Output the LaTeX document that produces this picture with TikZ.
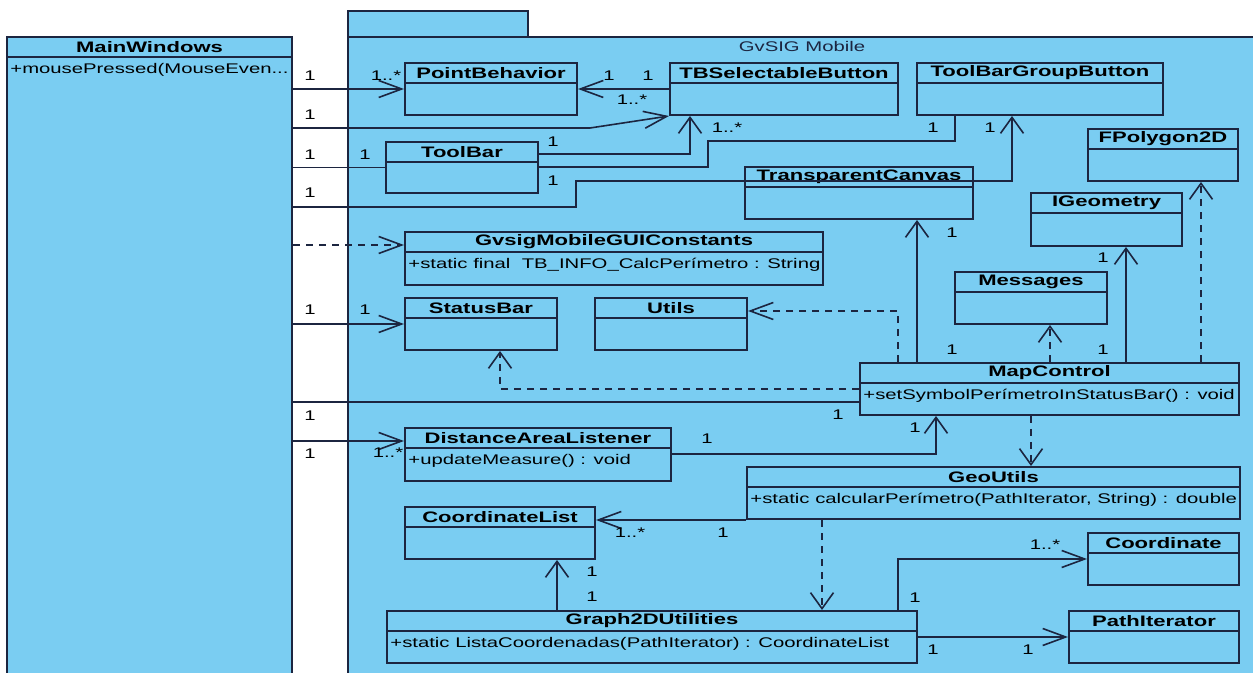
\documentclass[tikz,border=0pt]{standalone}
\usepackage{fontspec}
\setmainfont{Liberation Sans}
\usepackage{graphicx}
\definecolor{umlblue}{RGB}{122,205,242}
\definecolor{umlline}{RGB}{28,37,64}
\usetikzlibrary{arrows.meta, fit, calc}
\newcommand{\wide}[1]{\scalebox{1.45}[1]{#1}}

\begin{document}
\begin{tikzpicture}[x=0.5pt, y=-0.5pt,
    classbox/.style={draw=umlline, fill=umlblue, line width=1pt, inner sep=0pt},
    boxline/.style={draw=umlline, line width=1pt},
    titletext/.style={font=\fontsize{7.6}{8}\selectfont\bfseries, text=black, inner sep=0pt},
    membertext/.style={font=\fontsize{7}{8}\selectfont, text=black, anchor=west, inner sep=1.5pt},
    mult/.style={font=\fontsize{7}{8}\selectfont, text=black, inner sep=0pt},
    assoc/.style={draw=umlline, line width=0.8pt},
    depend/.style={assoc, dash pattern=on 3.5pt off 3pt},
    harr/.style={-{Straight Barb[length=11.5pt, width=8.5pt]}},
    varr/.style={-{Straight Barb[length=8pt, width=11.5pt]}},
  ]
    % name, left, top, right, bottom, title, member
    \def\umlclass#1#2#3#4#5#6#7{
        \node[classbox, fit={(#2,#3) (#4,#5)}] (#1) {};
        \draw[boxline] (#2,#3+20) -- (#4,#3+20);
        \node[titletext] (#1-t) at ({(#2+#4)/2},#3+10) {\wide{#6}};
        \node[membertext] (#1-m) at (#2,#3+33) {\wide{#7}};
    }

    \useasboundingbox (0,0) rectangle (1253,673);
    \clip (0,0) rectangle (1253,673);
    \fill[white] (0,0) rectangle (1253,673);

    %% package
    \draw[classbox] (348,11) rectangle (528,37);
    \node[classbox, fit={(348,37) (1270,690)}] (pkg) {};
    \node[mult, text=umlline] (pkg-t) at (802,47) {\wide{GvSIG Mobile}};

    %% classes
    \umlclass{mw}{7}{37}{292}{690}{MainWindows}{+mousePressed(MouseEven...}
    \umlclass{pb}{405}{63}{577}{115}{PointBehavior}{}
    \umlclass{tbs}{670}{63}{898}{115}{TBSelectableButton}{}
    \umlclass{tbgb}{917}{63}{1163}{115}{ToolBarGroupButton}{}
    \umlclass{tbar}{386}{142}{538}{193}{ToolBar}{}
    \umlclass{tc}{745}{167}{973}{219}{TransparentCanvas}{}
    \umlclass{fpoly}{1088}{129}{1238}{181}{FPolygon2D}{}
    \umlclass{igeo}{1031}{193}{1182}{246}{IGeometry}{}
    \umlclass{gmc}{405}{232}{823}{285}{GvsigMobileGUIConstants}{+static final\ \ TB\_INFO\_CalcPerímetro : String}
    \umlclass{sbar}{405}{298}{557}{350}{StatusBar}{}
    \umlclass{utils}{595}{298}{747}{350}{Utils}{}
    \umlclass{msg}{955}{272}{1107}{324}{Messages}{}
    \umlclass{mc}{860}{363}{1239}{415}{MapControl}{+setSymbolPerímetroInStatusBar() : void}
    \umlclass{dal}{405}{428}{671}{481}{DistanceAreaListener}{+updateMeasure() : void}
    \umlclass{geo}{747}{467}{1240}{519}{GeoUtils}{+static calcularPerímetro(PathIterator, String) : double}
    \umlclass{clist}{405}{507}{595}{559}{CoordinateList}{}
    \umlclass{coord}{1088}{533}{1239}{585}{Coordinate}{}
    \umlclass{g2d}{387}{611}{917}{663}{Graph2DUtilities}{+static ListaCoordenadas(PathIterator) : CoordinateList}
    \umlclass{piter}{1069}{611}{1239}{663}{PathIterator}{}

    %% MainWindows connectors
    \draw[assoc, harr] (mw.east |- pb.west) -- (pb.west);
    \draw[assoc, harr] (mw.east |- 0,128) -- (590,128) -- (tbs.south west);
    \draw[assoc] (mw.east |- tbar.west) -- (tbar.west);
    \draw[assoc, varr] (mw.east |- 0,207) -| (576,181) -| (1012,0 |- tbgb.south);
    \draw[depend, harr] (mw.east |- 0,245) -- (gmc.west |- 0,245);
    \draw[assoc, harr] (mw.east |- sbar.west) -- (sbar.west);
    \draw[assoc] (mw.east |- 0,402) -- (mc.west |- 0,402);
    \draw[assoc, harr] (mw.east |- 0,441) -- (dal.west |- 0,441);

    %% package connectors
    \draw[assoc, harr] (tbs.west |- pb.east) -- (pb.east);
    \draw[assoc, varr] (tbar.east |- 0,154) -| (690,0 |- tbs.south);
    \draw[assoc] (tbar.east |- 0,167) -| (708,141) -| (955,0 |- tbgb.south);
    \draw[assoc, varr] (dal.east |- 0,454) -| (936,0 |- mc.south);
    \draw[assoc, varr] (917,0 |- mc.north) -- (917,0 |- tc.south);
    \draw[depend, harr] (898,0 |- mc.north) |- (utils.east |- 0,311);
    \draw[depend, varr] (mc.west |- 0,389) -| (500,0 |- sbar.south);
    \draw[depend, varr] (1050,0 |- mc.north) -- (1050,0 |- msg.south);
    \draw[assoc, varr] (1126,0 |- mc.north) -- (1126,0 |- igeo.south);
    \draw[depend, varr] (1201,0 |- mc.north) -- (1201,0 |- fpoly.south);
    \draw[depend, varr] (1031,0 |- mc.south) -- (1031,0 |- geo.north);
    \draw[assoc, harr] (geo.south west) -- (clist.east |- geo.south west);
    \draw[depend, varr] (822,0 |- geo.south) -- (822,0 |- g2d.north);
    \draw[assoc, varr] (557,0 |- g2d.north) -- (557,0 |- clist.south);
    \draw[assoc, harr] (898,0 |- g2d.north) |- (coord.west |- 0,559);
    \draw[assoc, harr] (g2d.east |- 0,637) -- (piter.west |- 0,637);

    %% multiplicities
    \foreach \x/\y/\t [count=\i] in {310/76/1, 386/76/1..*, 310/115/1, 632/100/1..*,
        609/76/1, 648/76/1, 310/155/1, 365/155/1, 553/142/1, 727/128/1..*,
        553/181/1, 933/128/1, 310/193/1, 990/128/1, 310/310/1, 365/310/1,
        310/416/1, 838/415/1, 310/454/1, 388/453/1..*, 707/439/1, 915/428/1,
        952/233/1, 952/350/1, 1103/258/1, 1103/350/1, 630/533/1..*, 723/533/1,
        592/572/1, 592/597/1, 915/598/1, 1045/545/1..*, 933/650/1, 1028/650/1}
    {
        \node[mult] (m\i) at (\x,\y) {\wide{\t}};
    }

\end{tikzpicture}
\end{document}
